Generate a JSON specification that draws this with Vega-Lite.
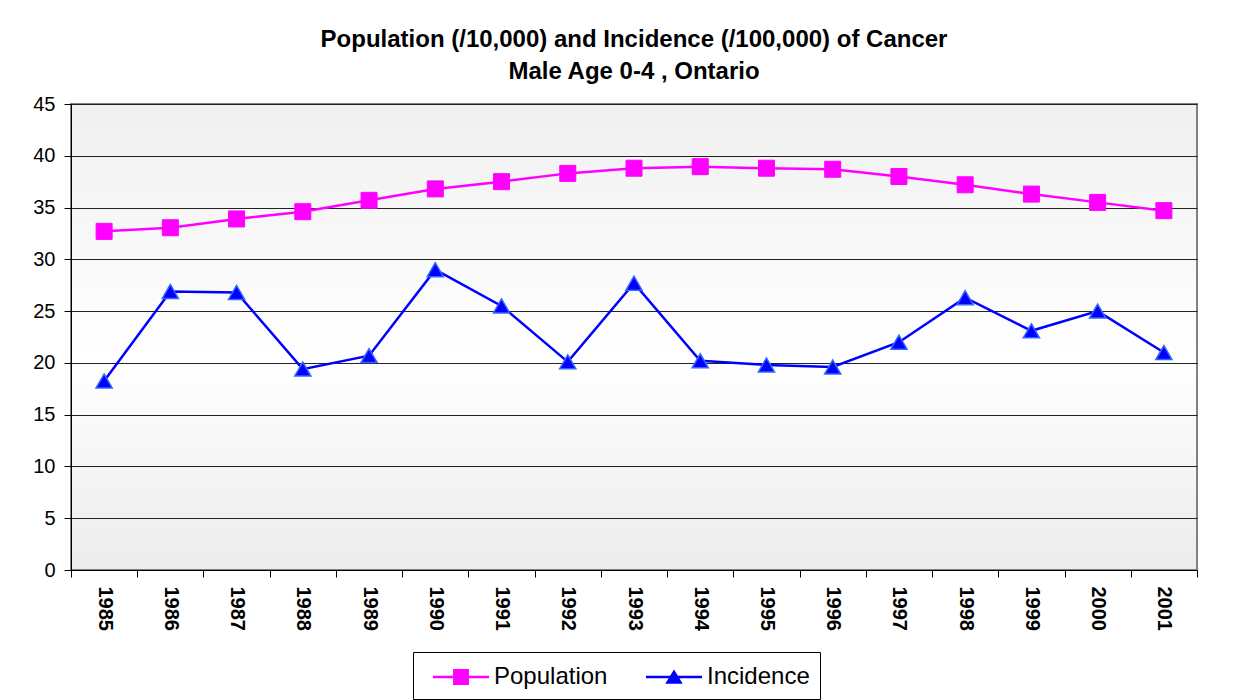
{
  "$schema": "https://vega.github.io/schema/vega-lite/v6.json",
  "autosize": {"type": "none"},
  "width": 1126,
  "height": 466,
  "padding": {"left": 71, "top": 104, "right": 63, "bottom": 130},
  "background": "white",
  "title": {
    "text": ["Population (/10,000) and Incidence (/100,000) of Cancer", "Male Age 0-4 , Ontario"],
    "font": "Liberation Sans",
    "fontSize": 24,
    "fontWeight": "bold",
    "color": "black",
    "anchor": "middle",
    "lineHeight": 32,
    "offset": 10
  },
  "config": {
    "view": {
      "stroke": "#808080",
      "strokeWidth": 2,
      "fill": {"gradient": "linear", "x1": 0, "y1": 0, "x2": 0, "y2": 1, "stops": [{"offset": 0, "color": "#f0f0f0"}, {"offset": 0.55, "color": "#ffffff"}, {"offset": 1, "color": "#ececec"}]}
    },
    "axis": {"labelFont": "Liberation Sans", "labelColor": "black", "domainColor": "black", "tickColor": "black"},
    "legend": {
      "orient": "none",
      "legendX": 342,
      "legendY": 548,
      "direction": "horizontal",
      "strokeColor": "black",
      "fillColor": "white",
      "padding": 10,
      "labelFont": "Liberation Sans",
      "labelFontSize": 24,
      "labelColor": "black",
      "labelOffset": 18,
      "symbolOffset": 23,
      "columnPadding": 28,
      "symbolSize": 900,
      "symbolOpacity": 1,
      "symbolStrokeWidth": 0,
      "symbolStrokeColor": "transparent"
    }
  },
  "data": {
    "values": [
      {"year": "1985", "series": "Population", "value": 32.7},
      {"year": "1986", "series": "Population", "value": 33.05},
      {"year": "1987", "series": "Population", "value": 33.9},
      {"year": "1988", "series": "Population", "value": 34.6},
      {"year": "1989", "series": "Population", "value": 35.7},
      {"year": "1990", "series": "Population", "value": 36.8},
      {"year": "1991", "series": "Population", "value": 37.5},
      {"year": "1992", "series": "Population", "value": 38.3},
      {"year": "1993", "series": "Population", "value": 38.8},
      {"year": "1994", "series": "Population", "value": 38.95},
      {"year": "1995", "series": "Population", "value": 38.8},
      {"year": "1996", "series": "Population", "value": 38.7},
      {"year": "1997", "series": "Population", "value": 38.0},
      {"year": "1998", "series": "Population", "value": 37.2},
      {"year": "1999", "series": "Population", "value": 36.3},
      {"year": "2000", "series": "Population", "value": 35.5},
      {"year": "2001", "series": "Population", "value": 34.7},
      {"year": "1985", "series": "Incidence", "value": 18.25},
      {"year": "1986", "series": "Incidence", "value": 26.9},
      {"year": "1987", "series": "Incidence", "value": 26.8},
      {"year": "1988", "series": "Incidence", "value": 19.4},
      {"year": "1989", "series": "Incidence", "value": 20.7},
      {"year": "1990", "series": "Incidence", "value": 29.0},
      {"year": "1991", "series": "Incidence", "value": 25.5},
      {"year": "1992", "series": "Incidence", "value": 20.1},
      {"year": "1993", "series": "Incidence", "value": 27.7},
      {"year": "1994", "series": "Incidence", "value": 20.2},
      {"year": "1995", "series": "Incidence", "value": 19.8},
      {"year": "1996", "series": "Incidence", "value": 19.6},
      {"year": "1997", "series": "Incidence", "value": 22.0},
      {"year": "1998", "series": "Incidence", "value": 26.3},
      {"year": "1999", "series": "Incidence", "value": 23.1},
      {"year": "2000", "series": "Incidence", "value": 25.0},
      {"year": "2001", "series": "Incidence", "value": 21.0}
    ]
  },
  "encoding": {
    "x": {
      "field": "year", "type": "ordinal",
      "scale": {"type": "band", "paddingInner": 0, "paddingOuter": 0},
      "axis": {
        "title": null, "labelAngle": 90, "labelAlign": "left", "labelBaseline": "middle",
        "labelFontSize": 20, "labelFontWeight": "bold", "labelPadding": 9,
        "tickBand": "extent", "tickSize": 7, "domainWidth": 1, "grid": false
      }
    },
    "y": {
      "field": "value", "type": "quantitative",
      "scale": {"domain": [0, 45], "nice": false, "zero": true},
      "axis": {
        "title": null, "values": [0, 5, 10, 15, 20, 25, 30, 35, 40, 45],
        "labelFontSize": 20, "labelPadding": 9, "tickSize": 7,
        "grid": true, "gridColor": "#222222", "gridWidth": 1, "gridOpacity": 1
      }
    },
    "color": {
      "field": "series", "type": "nominal",
      "scale": {"domain": ["Population", "Incidence"], "range": ["#FF00FF", "#0000FF"]},
      "legend": {"title": null}
    }
  },
  "layer": [
    {"mark": {"type": "line", "strokeWidth": 2.5}},
    {
      "transform": [{"filter": "datum.series == 'Population'"}],
      "mark": {"type": "point", "filled": true, "shape": "square", "size": 256, "opacity": 1, "stroke": "#FF00FF", "strokeWidth": 1}
    },
    {
      "transform": [{"filter": "datum.series == 'Incidence'"}],
      "mark": {"type": "point", "filled": true, "shape": "triangle-up", "size": 260, "opacity": 1, "stroke": "#3366FF", "strokeWidth": 1.5}
    },
    {
      "mark": {"type": "point", "filled": true, "opacity": 0},
      "encoding": {
        "shape": {
          "field": "series", "type": "nominal",
          "scale": {"domain": ["Population", "Incidence"], "range": [
            "M-1.87,-0.08H-0.53V-0.53H0.53V-0.08H1.87V0.08H0.53V0.53H-0.53V0.08H-1.87Z",
            "M-1.87,-0.08H-0.26L0,-0.5L0.26,-0.08H1.87V0.08H0.36L0.58,0.45H-0.58L-0.36,0.08H-1.87Z"
          ]},
          "legend": {"title": null}
        }
      }
    }
  ]
}
